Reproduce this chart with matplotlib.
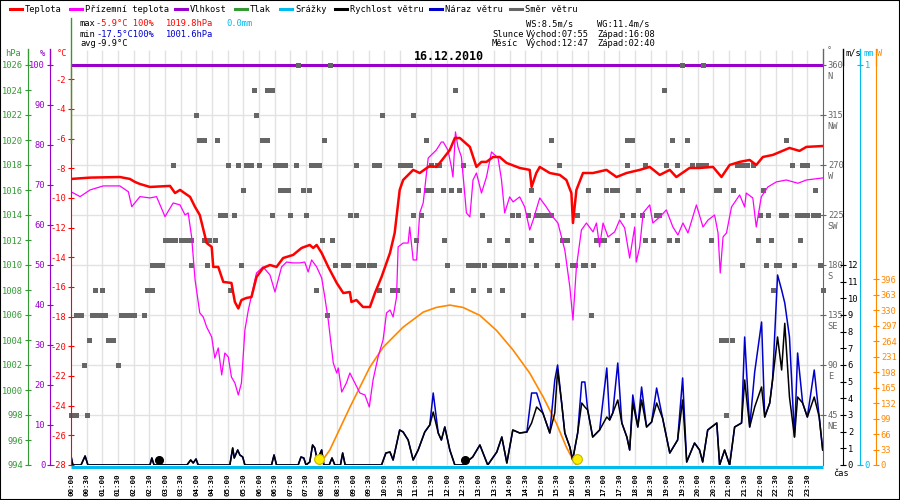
import matplotlib
matplotlib.use("Agg")
import matplotlib.pyplot as plt
from matplotlib.lines import Line2D
from matplotlib.patches import Rectangle
from matplotlib.transforms import offset_copy
import numpy as np

plt.rcParams['font.family'] = ['DejaVu Sans Mono']
plt.rcParams['font.size'] = 6
plt.rcParams['axes.unicode_minus'] = False

# ---- data ----
# temperature (red), hours / degC
temp_h = [0.00, 0.61, 1.56, 1.88, 2.04, 2.20, 2.52, 3.16, 3.32, 3.48, 3.80, 3.96,
          4.11, 4.33, 4.49, 4.54, 4.70, 4.86, 5.12, 5.23, 5.34, 5.44, 5.60, 5.76,
          5.92, 6.13, 6.35, 6.56, 6.77, 7.09, 7.36, 7.62, 7.73, 7.84, 8.00, 8.21,
          8.48, 8.69, 8.90, 8.95, 9.11, 9.32, 9.54, 9.70, 9.91, 10.18, 10.33, 10.49,
          10.60, 10.92, 11.13, 11.45, 11.66, 11.77, 12.09, 12.25, 12.41, 12.73, 12.94, 13.10,
          13.26, 13.47, 13.68, 13.90, 14.32, 14.64, 14.70, 14.85, 14.96, 15.28, 15.60, 15.81,
          15.97, 16.02, 16.13, 16.34, 16.66, 17.09, 17.41, 17.73, 18.15, 18.47, 18.79, 19.11,
          19.32, 19.74, 20.06, 20.49, 20.76, 21.02, 21.34, 21.66, 21.87, 22.08, 22.40, 22.93,
          23.25, 23.47, 24.00]
temp_c = [-8.72, -8.63, -8.59, -8.72, -8.92, -9.06, -9.26, -9.19, -9.67, -9.46, -9.93, -10.61,
          -11.15, -13.04, -13.30, -14.65, -14.65, -15.66, -15.73, -17.01, -17.45, -16.88, -16.74, -16.68,
          -15.33, -14.72, -14.52, -14.65, -14.05, -13.84, -13.37, -13.17, -13.37, -13.17, -13.71, -14.65,
          -15.73, -16.41, -16.34, -17.01, -16.88, -17.35, -17.35, -16.41, -15.33, -13.71, -12.36, -9.46,
          -8.79, -8.11, -8.32, -7.84, -7.91, -7.64, -6.77, -5.96, -5.96, -6.56, -7.91, -7.57,
          -7.57, -7.24, -7.24, -7.64, -7.98, -8.11, -9.26, -8.32, -7.91, -8.32, -8.45, -8.79,
          -9.67, -11.69, -9.46, -8.32, -8.32, -8.11, -8.59, -8.32, -8.11, -7.91, -8.45, -8.11,
          -8.59, -7.98, -7.98, -7.91, -8.59, -7.78, -7.57, -7.44, -7.78, -7.24, -7.10, -6.63,
          -6.83, -6.56, -6.50]

# ground temperature (magenta)
dew_h = [0.00, 0.29, 0.61, 1.03, 1.56, 1.83, 1.94, 2.20, 2.52, 2.73, 3.00, 3.26,
         3.48, 3.64, 3.74, 3.85, 3.96, 4.11, 4.22, 4.33, 4.49, 4.59, 4.70, 4.81,
         4.91, 5.02, 5.12, 5.23, 5.34, 5.44, 5.55, 5.66, 5.92, 6.13, 6.35, 6.51,
         6.72, 6.88, 7.09, 7.30, 7.46, 7.57, 7.68, 7.84, 8.00, 8.10, 8.21, 8.37,
         8.48, 8.53, 8.64, 8.79, 8.90, 9.06, 9.22, 9.38, 9.52, 9.64, 9.80, 9.96,
         10.07, 10.18, 10.28, 10.39, 10.44, 10.60, 10.76, 10.81, 10.92, 11.03, 11.13, 11.24,
         11.40, 11.66, 11.82, 11.88, 12.03, 12.14, 12.19, 12.27, 12.35, 12.46, 12.62, 12.73,
         12.83, 12.94, 13.10, 13.26, 13.42, 13.63, 13.74, 13.84, 14.00, 14.11, 14.32, 14.48,
         14.64, 14.75, 14.96, 15.17, 15.38, 15.54, 15.76, 15.92, 16.02, 16.13, 16.29, 16.45,
         16.66, 16.77, 16.87, 16.98, 17.14, 17.35, 17.51, 17.67, 17.83, 17.99, 18.04, 18.15,
         18.26, 18.47, 18.57, 18.79, 19.00, 19.21, 19.37, 19.53, 19.69, 19.96, 20.17, 20.33,
         20.54, 20.65, 20.72, 20.81, 20.92, 21.08, 21.34, 21.50, 21.55, 21.76, 21.87, 22.03,
         22.24, 22.51, 22.83, 23.20, 23.47, 24.00]
dew_c = [-9.58, -9.91, -9.46, -9.19, -9.19, -9.58, -10.59, -9.91, -10.00, -9.91, -11.26, -10.34,
         -10.47, -11.15, -11.01, -12.63, -15.53, -17.75, -18.02, -18.70, -19.37, -20.79, -20.11, -21.93,
         -20.45, -20.72, -22.07, -22.47, -23.28, -22.47, -18.90, -17.55, -15.06, -14.65, -15.19, -16.34,
         -14.65, -14.32, -14.38, -14.38, -14.32, -14.99, -14.18, -14.65, -15.39, -16.68, -18.23, -21.12,
         -21.80, -21.46, -23.08, -22.47, -21.80, -22.47, -23.15, -23.28, -24.09, -22.27, -20.72, -19.57,
         -17.75, -17.55, -18.02, -16.68, -13.30, -13.04, -13.04, -11.96, -14.18, -14.18, -11.01, -10.34,
         -7.31, -6.77, -6.23, -6.23, -6.77, -7.91, -8.59, -5.55, -6.56, -7.24, -11.01, -11.28,
         -8.79, -8.32, -9.67, -8.59, -6.90, -7.31, -8.79, -11.01, -9.93, -10.27, -9.93, -10.61,
         -12.16, -11.49, -10.00, -10.61, -11.28, -11.69, -13.51, -16.00, -18.23, -14.65, -12.16, -11.69,
         -12.29, -11.69, -13.30, -11.69, -12.63, -12.29, -11.49, -12.02, -14.05, -11.96, -14.32, -13.30,
         -11.01, -10.47, -11.69, -11.28, -10.81, -11.96, -12.50, -11.69, -12.36, -10.47, -11.96, -11.49,
         -11.15, -12.36, -15.06, -12.63, -12.36, -10.61, -9.80, -10.61, -9.67, -10.00, -11.96, -9.93,
         -9.26, -8.92, -8.79, -9.01, -8.79, -8.65]

# wind speed (black), m/s
wind_h = [0.00, 0.06, 0.32, 0.45, 0.54, 2.52, 2.58, 2.65, 3.70, 3.82, 3.90, 3.99,
          4.06, 5.07, 5.16, 5.21, 5.32, 5.39, 5.48, 5.55, 6.40, 6.48, 6.56, 7.25,
          7.34, 7.43, 7.50, 7.62, 7.71, 7.78, 7.86, 8.00, 8.07, 8.24, 8.33, 8.42,
          8.60, 8.67, 8.75, 9.91, 10.05, 10.18, 10.28, 10.49, 10.60, 10.76, 10.92, 11.08,
          11.29, 11.45, 11.56, 11.72, 11.82, 11.93, 12.09, 12.25, 12.50, 12.82, 13.05, 13.30,
          13.59, 13.75, 13.91, 14.10, 14.32, 14.55, 14.70, 14.86, 15.06, 15.28, 15.44, 15.53,
          15.66, 15.76, 15.92, 16.01, 16.17, 16.30, 16.40, 16.49, 16.65, 16.87, 17.10, 17.19,
          17.29, 17.45, 17.58, 17.74, 17.83, 17.93, 18.09, 18.21, 18.37, 18.53, 18.69, 18.88,
          19.11, 19.36, 19.52, 19.65, 19.90, 20.06, 20.16, 20.32, 20.61, 20.70, 20.86, 21.02,
          21.18, 21.40, 21.50, 21.66, 21.82, 22.04, 22.14, 22.30, 22.39, 22.55, 22.68, 22.78,
          22.93, 23.09, 23.19, 23.35, 23.50, 23.72, 23.88, 23.99]
wind_ms = [0.54, 0, 0, 0.54, 0, 0, 0.42, 0, 0, 0.30, 0.12, 0.36,
           0, 0, 1.02, 0.42, 0.90, 0.60, 0.48, 0, 0, 0.60, 0, 0,
           0.48, 0.42, 0, 0.18, 1.20, 1.02, 0.30, 0.90, 0, 0, 0.42, 0,
           0, 0.72, 0, 0, 0.72, 0.78, 0.30, 2.10, 1.98, 1.50, 0.30, 0.90,
           1.98, 2.40, 3.18, 1.92, 1.50, 2.28, 0.90, 0, 0, 0.48, 1.20, 0,
           0.78, 1.68, 0.12, 2.10, 1.92, 1.98, 2.52, 3.48, 3.12, 1.92, 3.12, 5.70,
           3.72, 1.92, 1.08, 0.30, 1.92, 3.72, 3.48, 3.30, 1.68, 2.10, 2.88, 2.70,
           3.12, 3.90, 2.52, 1.68, 0.90, 3.72, 2.28, 3.90, 2.28, 2.58, 3.72, 2.82,
           0.72, 1.50, 3.90, 0.18, 1.32, 0.90, 0.18, 2.10, 2.52, 0, 0.90, 0,
           2.28, 2.52, 5.10, 2.28, 3.48, 4.68, 2.88, 3.72, 5.10, 7.68, 5.70, 8.50,
           4.08, 1.68, 4.08, 3.72, 2.88, 4.08, 2.88, 0.90]
# gusts (blue) where they stand above the mean wind
gust_h = [11.56, 14.70, 14.86, 15.44, 15.53, 16.30, 16.40, 17.10, 17.45, 17.93, 18.21,
          18.69, 19.52, 21.50, 21.82, 22.04, 22.55, 22.68, 22.78, 22.93, 23.19, 23.72]
gust_ms = [4.32, 4.32, 4.32, 5.10, 6.00, 4.98, 4.98, 5.82, 6.12, 4.20, 4.68,
           4.62, 5.22, 7.68, 5.58, 8.58, 11.40, 10.50, 9.72, 7.68, 6.72, 5.70]

# theoretical solar radiation (orange), W
rad_h = [7.92, 8.26, 8.90, 9.54, 9.96, 10.60, 11.24, 11.66, 12.09, 12.51,
         13.05, 13.58, 14.11, 14.64, 15.07, 15.49, 15.81, 16.08, 16.13]
rad_w = [0, 32, 123, 209, 251, 294, 326, 336, 341, 336,
         319, 287, 245, 196, 145, 89, 38, 4, 0]

# wind direction (grey squares): minutes of the day for each compass level
dir_levels = [45, 90, 112.5, 135, 157.5, 180, 202.5, 225, 247.5, 270, 292.5, 315, 337.5, 360]
dir_rows_min = [
    [0, 10, 30, 1255],
    [25, 90],
    [35, 70, 80, 1245, 1255, 1265],
    [10, 20, 40, 50, 55, 65, 95, 105, 115, 120, 140, 490, 865, 995],
    [45, 60, 145, 155, 305, 470, 590, 615, 625, 730, 770, 800, 825, 1345, 1440],
    [155, 165, 175, 230, 260, 325, 505, 520, 530, 550, 560, 570, 580, 720, 760, 770,
     780, 790, 810, 820, 830, 840, 850, 865, 890, 930, 960, 965, 980, 985, 1000,
     1285, 1330, 1350, 1355, 1385, 1435],
    [180, 190, 200, 210, 220, 230, 255, 265, 275, 480, 500, 660, 715, 800, 835, 880,
     940, 950, 1005, 1015, 1020, 1045, 1100, 1115, 1145, 1160, 1225, 1315, 1340, 1395],
    [285, 295, 312, 385, 420, 450, 535, 545, 655, 670, 787, 845, 855, 875, 890, 900,
     910, 920, 968, 1055, 1076, 1093, 1120, 1125, 1320, 1335, 1360, 1370, 1390, 1400,
     1410, 1420, 1430],
    [330, 400, 410, 415, 445, 455, 665, 680, 690, 712, 727, 743, 880, 990, 1025, 1035,
     1045, 1085, 1145, 1170, 1235, 1240, 1267, 1325, 1425],
    [195, 300, 320, 335, 345, 360, 390, 400, 410, 430, 460, 470, 475, 545, 580, 590,
     630, 640, 650, 690, 700, 705, 750, 935, 1065, 1100, 1140, 1160, 1190, 1200, 1210,
     1215, 1275, 1285, 1295, 1305, 1380, 1400, 1410],
    [245, 255, 280, 366, 375, 485, 680, 920, 1065, 1075, 1150, 1180, 1370],
    [240, 355, 595, 655],
    [350, 375, 385, 735, 1135],
    [435, 495, 1170, 1210],
]

humidity = 100
rain_mm = 0.0
press_max = 1019.8
sun_h = [7.92, 16.15]    # sunrise / sunset markers
moon_h = [2.81, 12.57]   # moon markers as drawn

# ---- colours ----
C_TEMP = '#ff0000'
C_DEW = '#ff00ff'
C_HUM = '#9900cc'
C_PRESS = '#339933'
C_RAIN = '#00bbee'
C_WIND = '#000000'
C_GUST = '#0000cc'
C_DIR = '#666666'
C_RAD = '#ff8800'
C_GRID = '#e2e2e2'

W, H = 900, 500
L, R, T, B = 71, 823, 65, 465


def fx(x):
    return x / W


def fy(y):
    return 1 - y / H


fig = plt.figure(figsize=(9, 5), dpi=100)
ax = fig.add_axes([fx(L), fy(B), (R - L) / W, (B - T) / H])
ax.set_xlim(0, 24)
ax.set_ylim(0, 360)

# grid
ax.vlines(np.arange(0.5, 24, 0.5), 0, 360 + 15 * 360 / 400, colors=C_GRID, lw=1,
          clip_on=False, zorder=0)
ax.hlines(np.arange(45, 360, 45), 0, 24, colors=C_GRID, lw=1, zorder=0)

ticks_x = np.arange(0, 24, 0.5)
ax.set_xticks(ticks_x)
ax.set_xticklabels(["%02d:%02d" % (int(t), 30 if t % 1 else 0) for t in ticks_x],
                   rotation=90, fontsize=5.4, fontweight='bold')
ax.tick_params(axis='x', length=0, pad=6)


def make_axis(side, pos_px, ylim, ticks, color):
    a = ax.twinx()
    a.set_ylim(*ylim)
    a.patch.set_visible(False)
    for s in a.spines.values():
        s.set_visible(False)
    sp = a.spines[side]
    sp.set_visible(True)
    sp.set_position(('axes', (pos_px - L) / (R - L)))
    sp.set_color(color)
    a.yaxis.set_ticks_position(side)
    a.set_yticks(list(ticks))
    a.tick_params(axis='y', colors=color, direction='inout', length=5, pad=1,
                  labelsize=6.3)
    return a


ax_h = make_axis('left', 50, (0, 100), range(0, 101, 10), C_HUM)
ax_w = make_axis('right', 876, (0, 853), range(0, 397, 33), C_RAD)
ax_r = make_axis('right', 860, (0, 1), [0, 1], C_RAIN)
ax_v = make_axis('right', 843, (0, 24), range(0, 13), C_WIND)
ax_t = make_axis('left', 71, (-28, -1.04), range(-28, -1, 2), C_TEMP)
ax_p = make_axis('left', 28, (994, 1026), range(994, 1027, 2), C_PRESS)

# direction axis on the right edge
for s in ax.spines.values():
    s.set_visible(False)
ax.spines['right'].set_visible(True)
ax.spines['right'].set_color(C_DIR)
ax.yaxis.tick_right()
ax.set_yticks(range(45, 361, 45))
ax.tick_params(axis='y', colors=C_DIR, direction='inout', length=5, pad=1, labelsize=6.3)
for deg, name in zip(range(360, 44, -45), ['N', 'NW', 'W', 'SW', 'S', 'SE', 'E', 'NE']):
    ax.annotate(name, xy=(1, deg), xycoords=('axes fraction', 'data'), xytext=(3.5, -8.5),
                textcoords='offset points', color=C_DIR, fontsize=6.3, va='center')

# humidity and wind direction
ax_h.plot([0, 24], [humidity, humidity], color=C_HUM, lw=2.2, solid_capstyle='butt',
          clip_on=False, zorder=2)
for lev, mins in zip(dir_levels, dir_rows_min):
    ax_h.plot(np.array(mins) / 60, [lev] * len(mins), 's', color=C_DIR, ms=3.6, mew=0,
              transform=ax.transData, clip_on=False, zorder=3)

# radiation
ax_w.plot(rad_h, rad_w, color=C_RAD, lw=1.2)

# rain
ax_r.plot([0, 24], [rain_mm, rain_mm], color=C_RAIN, lw=2.2, solid_capstyle='butt',
          transform=offset_copy(ax_r.transData, fig=fig, y=-1.5, units='dots'),
          clip_on=False)

# wind
gust = np.array(wind_ms, dtype=float)
for t, g in zip(gust_h, gust_ms):
    gust[wind_h.index(t)] = g
ax_v.plot(wind_h, gust, color=C_GUST, lw=1.1)
ax_v.plot(wind_h, wind_ms, color=C_WIND, lw=1.1)
ax_v.plot(sun_h, [0.36, 0.36], 'o', ms=7, mfc='#ffee00', mec='#c8b400', mew=0.8,
          clip_on=False, zorder=5)
ax_v.plot(moon_h, [0.32, 0.32], 'o', ms=5.5, color='black', clip_on=False, zorder=5)

# temperatures
ax_t.plot(dew_h, dew_c, color=C_DEW, lw=0.9)
ax_t.plot(temp_h, temp_c, color=C_TEMP, lw=1.8)

# pressure: only the first reading shows, running off the top
ax_p.plot([0, 0], [press_max, 1029.8], color=C_PRESS, lw=1, clip_on=False)

ax.yaxis.tick_right()

# axis lines running up to the unit labels
for x, c in [(28, C_PRESS), (50, C_HUM), (823, C_DIR), (843, C_WIND), (860, C_RAIN),
             (876, C_RAD)]:
    fig.add_artist(Line2D([fx(x), fx(x)], [fy(49), fy(65)], color=c, lw=1))

for x, y, s, c in [(5, 53, 'hPa', C_PRESS), (40, 53, '%', C_HUM), (57, 53, '°C', C_TEMP),
                   (827, 51, '°', C_DIR), (845, 53, 'm/s', C_WIND), (863, 53, 'mm', C_RAIN),
                   (877, 53, 'W', C_RAD), (833, 474, 'čas', 'black')]:
    fig.text(fx(x), fy(y), s, color=c, fontsize=6.2, va='center')

# legend row
legend_items = [("Teplota", C_TEMP, 25), ("Přízemní teplota", C_DEW, 85),
                ("Vlhkost", C_HUM, 190), ("Tlak", C_PRESS, 250), ("Srážky", C_RAIN, 295),
                ("Rychlost větru", C_WIND, 350), ("Náraz větru", C_GUST, 445),
                ("Směr větru", C_DIR, 525)]
for label, c, x in legend_items:
    fig.add_artist(Line2D([fx(x - 15), fx(x - 3)], [fy(9), fy(9)], color=c, lw=2.2))
    fig.text(fx(x), fy(9), label, fontsize=6.3, va='center')

# summary block
info = [(80, 24, 'max', 'black'), (96, 24, '-5.9°C 100%', C_TEMP),
        (166, 24, '1019.8hPa', C_TEMP), (226, 24, '0.0mm', C_RAIN),
        (80, 34, 'min', 'black'), (96, 34, '-17.5°C100%', C_GUST),
        (166, 34, '1001.6hPa', C_GUST),
        (80, 44, 'avg', 'black'), (96, 44, '-9.9°C', 'black'),
        (526, 24, 'WS:8.5m/s', 'black'), (597, 24, 'WG:11.4m/s', 'black'),
        (492, 34, 'Slunce', 'black'), (526, 34, 'Východ:07:55', 'black'),
        (597, 34, 'Západ:16:08', 'black'),
        (492, 44, 'Měsíc', 'black'), (526, 44, 'Východ:12:47', 'black'),
        (597, 44, 'Západ:02:40', 'black')]
for x, y, s, c in info:
    fig.text(fx(x), fy(y), s, color=c, fontsize=6.3, va='center')

fig.text(fx(449), fy(57), '16.12.2010', ha='center', va='center', fontsize=8.4,
         fontweight='bold')

fig.patches.append(Rectangle((0, 0), 1, 1, transform=fig.transFigure, fill=False,
                             edgecolor='black', lw=1.5))

fig.savefig('out.png', dpi=100)
